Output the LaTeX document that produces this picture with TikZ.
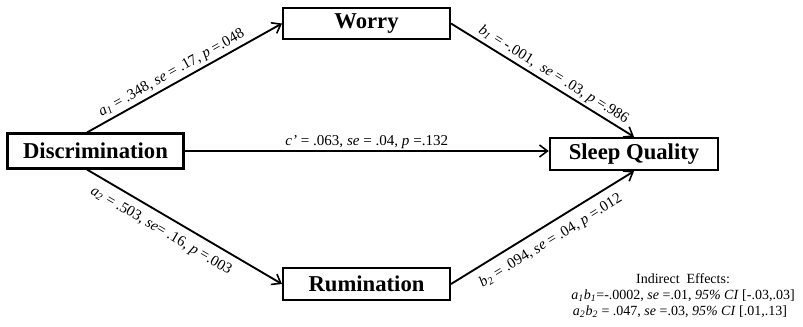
\documentclass[tikz,border=0pt]{standalone}
\usepackage{fontspec}
\setmainfont{Liberation Serif}
\usetikzlibrary{arrows.meta}
\newcommand{\sub}[1]{\textsubscript{#1}}
\begin{document}
\begin{tikzpicture}[x=0.75pt,y=-0.75pt,
  varbox/.style={draw,line width=1.8pt,inner sep=0pt,minimum height=24pt,
    font=\fontsize{17}{20}\selectfont\bfseries},
  path/.style={line width=1.4pt,-{Straight Barb[length=6pt,width=9pt,line width=1.2pt]}},
  lab/.style={font=\fontsize{11.3}{13}\selectfont,sloped,inner sep=2pt},
  ind/.style={font=\fontsize{10.5}{12}\selectfont,inner sep=0pt}]
\useasboundingbox (0,0) rectangle (803,326);
\node[varbox,minimum width=132pt,minimum height=26pt] (disc) at (95.5,151) {Discrimination};
\node[varbox,minimum width=126pt] (sleep) at (634,154) {Sleep Quality};
\node[varbox,minimum width=125pt,minimum height=23pt] (worry) at (366.5,23.5) {Worry};
\node[varbox,minimum width=125pt] (rum) at (366.5,284) {Rumination};
\draw[path] ([xshift=-6.4pt]disc.north) -- node[lab,above,pos=0.46] {\textit{a\sub{1}} = .348, \textit{se} = .17, \textit{p} =.048} (worry.west);
\draw[path] (worry.east) -- node[lab,above,pos=0.53] {\textit{b\sub{1}} = -.001,\ \ \textit{se} = .03, \textit{p} =.986} (sleep.north);
\draw[path] ([xshift=-6.4pt]disc.south) -- node[lab,below=4pt,pos=0.42] {\textit{a\sub{2}} = .503, \textit{se}= .16, \textit{p} =.003} (rum.west);
\draw[path] (rum.east) -- node[lab,below=4pt,pos=0.5] {\textit{b\sub{2}} = .094, \textit{se} = .04, \textit{p} =.012} (sleep.south);
\draw[path] (disc.east) -- node[lab,above=-1pt,pos=0.5] {\textit{c’} = .063, \textit{se} = .04, \textit{p} =.132} (disc.east -| sleep.west);
\node[ind] (ie) at (683,279) {Indirect\ \ Effects:};
\node[ind] (ie1) at (683,296) {\textit{a\sub{1}b\sub{1}}=-.0002, \textit{se} =.01, \textit{95\% CI} [-.03,.03]};
\node[ind] (ie2) at (680,312) {\textit{a\sub{2}b\sub{2}} = .047, \textit{se} =.03, \textit{95\% CI} [.01,.13]};
\end{tikzpicture}
\end{document}
